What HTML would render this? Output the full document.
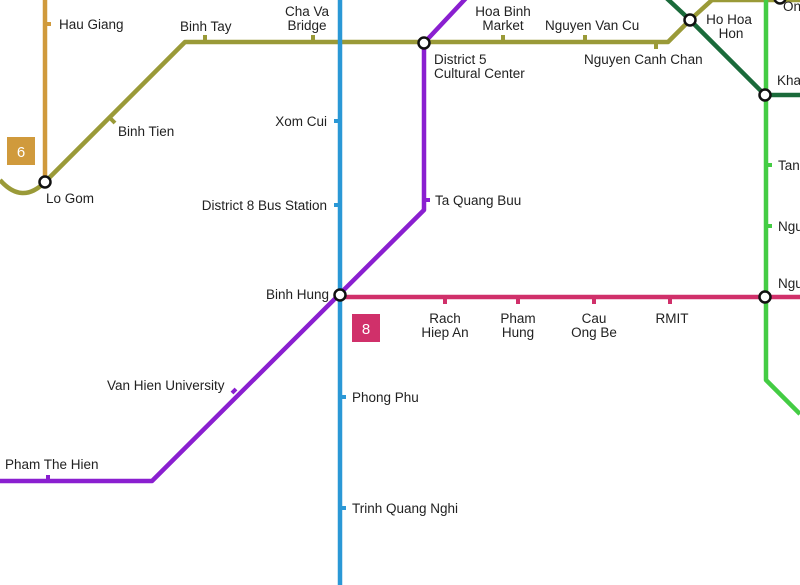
<!DOCTYPE html>
<html><head><style>body{margin:0;background:#fff}svg{display:block}text{font-family:"Liberation Sans",sans-serif;font-size:13.5px;fill:#222}</style></head><body>
<svg width="800" height="585" viewBox="0 0 800 585" xmlns="http://www.w3.org/2000/svg">
<g fill="none" stroke-width="4.5" stroke-linejoin="round">
<path d="M45 0V182" stroke="#d09a3c"/>
<path d="M0 180Q22 205 45 182L185 42H668L690 20L712 0H800" stroke="#9a9a38"/>
<path d="M660 -8L690 20L765 95H800" stroke="#1a6a3a"/>
<path d="M766 0V380L800 414" stroke="#44cc44"/>
<path d="M340 0V585" stroke="#2a98d6"/>
<path d="M468 -4L424 43V210L152 481H0" stroke="#8a1fd0"/>
<path d="M340 297H800" stroke="#d0306a"/>
</g>
<g stroke-width="4">
<path d="M45 24h6" stroke="#d09a3c"/>
<path d="M205 42v-7M313 42v-7M503 42v-7M585 42v-7M656 42v7M110 118l5 5" stroke="#9a9a38"/>
<path d="M340 121h-6M340 205h-6M340 397h6M340 508h6" stroke="#2a98d6"/>
<path d="M424 200h6M236 389l-4 4M48 481v-6" stroke="#8a1fd0"/>
<path d="M445 297v7M518 297v7M594 297v7M670 297v7" stroke="#d0306a"/>
<path d="M766 165h6M766 226h6" stroke="#44cc44"/>
</g>
<g fill="#fff" stroke="#111" stroke-width="2.5">
<circle cx="45" cy="182" r="5.5"/><circle cx="424" cy="43" r="5.5"/><circle cx="340" cy="295" r="5.5"/>
<circle cx="690" cy="20" r="5.5"/><circle cx="765" cy="95" r="5.5"/><circle cx="765" cy="297" r="5.5"/><circle cx="780" cy="-2" r="5.5"/>
</g>
<rect x="7" y="137" width="28" height="28" fill="#d09a3c"/><text x="21" y="157" text-anchor="middle" style="fill:#fff;font-size:15px">6</text>
<rect x="352" y="314" width="28" height="28" fill="#d0306a"/><text x="366" y="334" text-anchor="middle" style="fill:#fff;font-size:15px">8</text>
<text x="59" y="29">Hau Giang</text>
<text x="180" y="31">Binh Tay</text>
<text x="307" y="16" text-anchor="middle">Cha Va</text><text x="307" y="30" text-anchor="middle">Bridge</text>
<text x="503" y="16" text-anchor="middle">Hoa Binh</text><text x="503" y="30" text-anchor="middle">Market</text>
<text x="545" y="30">Nguyen Van Cu</text>
<text x="584" y="64">Nguyen Canh Chan</text>
<text x="729" y="24" text-anchor="middle">Ho Hoa</text><text x="731" y="38" text-anchor="middle">Hon</text>
<text x="783" y="11">On</text><text x="777" y="85">Kha</text>
<text x="434" y="64">District 5</text><text x="434" y="78">Cultural Center</text>
<text x="118" y="136">Binh Tien</text>
<text x="46" y="203">Lo Gom</text>
<text x="327" y="126" text-anchor="end">Xom Cui</text>
<text x="327" y="210" text-anchor="end">District 8 Bus Station</text>
<text x="435" y="205">Ta Quang Buu</text>
<text x="778" y="170">Tan</text><text x="778" y="231">Ngu</text><text x="778" y="288">Ngu</text>
<text x="329" y="299" text-anchor="end">Binh Hung</text>
<text x="445" y="323" text-anchor="middle">Rach</text><text x="445" y="337" text-anchor="middle">Hiep An</text>
<text x="518" y="323" text-anchor="middle">Pham</text><text x="518" y="337" text-anchor="middle">Hung</text>
<text x="594" y="323" text-anchor="middle">Cau</text><text x="594" y="337" text-anchor="middle">Ong Be</text>
<text x="672" y="323" text-anchor="middle">RMIT</text>
<text x="107" y="390">Van Hien University</text>
<text x="352" y="402">Phong Phu</text>
<text x="5" y="469">Pham The Hien</text>
<text x="352" y="513">Trinh Quang Nghi</text>
</svg>
</body></html>
